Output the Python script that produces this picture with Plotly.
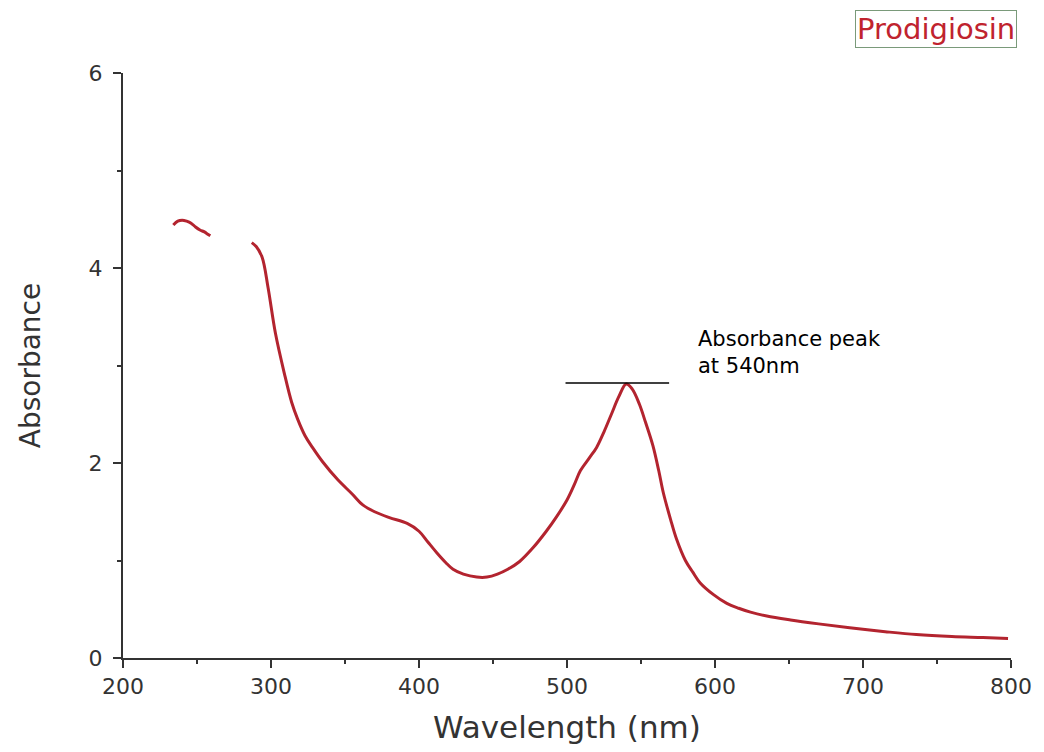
import plotly.graph_objects as go

# Segment 1 (short piece before the gap)
wl_seg1 = [234, 237, 240, 243, 246, 249, 252, 255, 257, 259]
abs_seg1 = [4.44, 4.48, 4.49, 4.48, 4.46, 4.42, 4.39, 4.37, 4.35, 4.33]

# Segment 2 (main spectrum)
wl_seg2 = [287, 290, 294, 298, 303, 309, 314, 318, 323, 328, 335, 345, 355, 362, 370,
           380, 392, 400, 406, 412, 418, 423, 430, 439, 446, 453, 460, 468, 477, 486,
           493, 500, 505, 509, 515, 520, 525, 530, 535, 540, 544, 549, 553, 558, 562,
           565, 570, 574, 580, 585, 590, 599, 608, 616, 624, 635, 651, 670, 691, 715,
           736, 760, 781, 798]
abs_seg2 = [4.26, 4.22, 4.11, 3.80, 3.33, 2.92, 2.62, 2.45, 2.28, 2.16, 2.01, 1.83, 1.68, 1.57, 1.50,
            1.44, 1.38, 1.30, 1.19, 1.08, 0.98, 0.91, 0.86, 0.83, 0.83, 0.86, 0.91, 0.99, 1.13, 1.30,
            1.45, 1.62, 1.78, 1.92, 2.05, 2.16, 2.32, 2.50, 2.68, 2.81, 2.76, 2.60, 2.42, 2.18, 1.92,
            1.70, 1.42, 1.22, 1.00, 0.88, 0.77, 0.65, 0.56, 0.51, 0.47, 0.43, 0.39, 0.35, 0.31, 0.27,
            0.24, 0.22, 0.21, 0.20]

x_ticks = [200, 300, 400, 500, 600, 700, 800]
y_ticks = [0, 2, 4, 6]

peak_abs = 2.82
peak_line_x = [499, 569]
label_text = "Absorbance peak<br>at 540nm"
legend_text = "Prodigiosin"

FONT = "DejaVu Sans"

fig = go.Figure()
fig.add_trace(go.Scatter(x=wl_seg1 + [None] + wl_seg2, y=abs_seg1 + [None] + abs_seg2,
                         mode="lines", line=dict(color="#b3242f", width=3, shape="spline"),
                         connectgaps=False, showlegend=False))
fig.add_trace(go.Scatter(x=peak_line_x, y=[peak_abs, peak_abs], mode="lines",
                         line=dict(color="black", width=1.5), showlegend=False))

fig.add_annotation(x=587, y=3.13, xref="x", yref="y", text=label_text, showarrow=False,
                   xanchor="left", yanchor="middle", align="left",
                   font=dict(family=FONT, size=21, color="black"))
fig.add_annotation(x=0.824, y=1.108, xref="paper", yref="paper", text=legend_text,
                   showarrow=False, xanchor="left", yanchor="top", align="left",
                   font=dict(family=FONT, size=29, color="#c0232e"),
                   bordercolor="#7a9a7a", borderwidth=1, borderpad=1, bgcolor="white")

axis_font = dict(family=FONT, size=22, color="#333333")
fig.update_xaxes(range=[200, 800], tickvals=x_ticks, showline=True, linecolor="#333333",
                 linewidth=2, ticks="outside", ticklen=8, tickwidth=2, tickcolor="#333333",
                 minor=dict(dtick=50, tick0=200, ticks="outside", ticklen=4, tickwidth=2, tickcolor="#333333"),
                 showgrid=False, zeroline=False, tickfont=axis_font,
                 title=dict(text="Wavelength (nm)", font=dict(family=FONT, size=31, color="#333333"),
                            standoff=18))
fig.update_yaxes(range=[0, 6], tickvals=y_ticks, showline=True, linecolor="#333333",
                 linewidth=2, ticks="outside", ticklen=8, tickwidth=2, tickcolor="#333333",
                 minor=dict(dtick=1, tick0=0, ticks="outside", ticklen=4, tickwidth=2, tickcolor="#333333"),
                 showgrid=False, zeroline=False, tickfont=axis_font, ticklabelstandoff=6,
                 title=dict(text="Absorbance", font=dict(family=FONT, size=28, color="#333333"),
                            standoff=40))

fig.update_layout(width=1044, height=752, plot_bgcolor="white", paper_bgcolor="white",
                  margin=dict(l=123, r=33, t=73, b=94), showlegend=False)

fig.write_html("out.html")
